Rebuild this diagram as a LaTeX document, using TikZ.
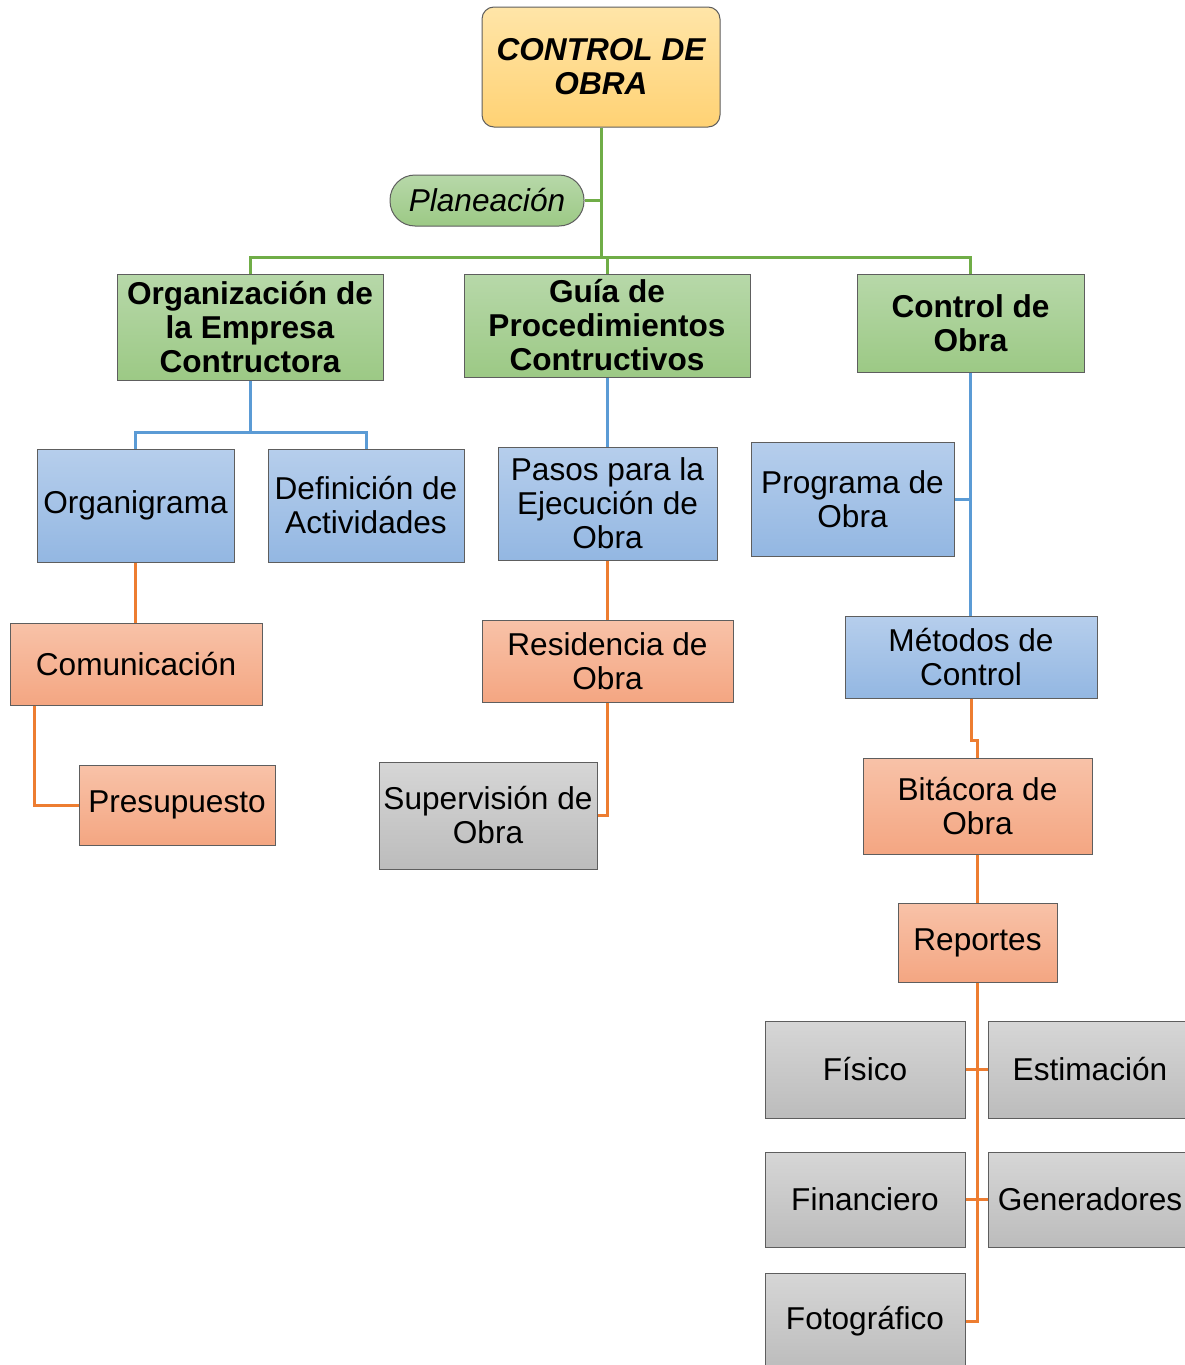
\documentclass[tikz,border=0pt]{standalone}
\usepackage{fontspec}
\setmainfont{Liberation Sans}
\usetikzlibrary{calc}
\definecolor{gC}{HTML}{70AD47}
\definecolor{bC}{HTML}{5B9BD5}
\definecolor{oC}{HTML}{ED7D31}
\definecolor{edgeC}{HTML}{5E5E5E}
\definecolor{topT}{HTML}{FFE5A8}
\definecolor{topB}{HTML}{FFD274}
\definecolor{grT}{HTML}{B7D8A9}
\definecolor{grB}{HTML}{9CC985}
\definecolor{blT}{HTML}{B6CEEC}
\definecolor{blB}{HTML}{93B7E2}
\definecolor{saT}{HTML}{F8C2A8}
\definecolor{saB}{HTML}{F4A682}
\definecolor{gyT}{HTML}{D6D6D6}
\definecolor{gyB}{HTML}{BCBCBC}
\begin{document}
\begin{tikzpicture}[x=1pt,y=-1pt,
  box/.style={draw=edgeC, line width=1pt, inner sep=0pt, align=center,
    font=\fontsize{31.6}{34}\selectfont},
  topbox/.style={box, rounded corners=12pt, top color=topT, bottom color=topB,
    font=\fontsize{31.6}{34}\selectfont\bfseries\itshape},
  pill/.style={box, rounded corners=25pt, top color=grT, bottom color=grB,
    font=\fontsize{31.6}{34}\selectfont\itshape},
  greenbox/.style={box, top color=grT, bottom color=grB,
    font=\fontsize{31.6}{34}\selectfont\bfseries},
  bluebox/.style={box, top color=blT, bottom color=blB},
  salmonbox/.style={box, top color=saT, bottom color=saB},
  greybox/.style={box, top color=gyT, bottom color=gyB},
  gline/.style={draw=gC, line width=3pt},
  bline/.style={draw=bC, line width=3pt},
  oline/.style={draw=oC, line width=3pt}]
\useasboundingbox[fill=white] (0,0) rectangle (1185,1365);

% connector levels
\coordinate (busy) at (0,257);
\coordinate (bbusy) at (0,432);

% top level
\node[topbox, minimum width=238pt, minimum height=120pt] (top) at (601,67) {CONTROL DE\\OBRA};
\node[pill, minimum width=194pt, minimum height=51pt] (plan) at (487,200.5) {Planeación};

% green row
\node[greenbox, minimum width=266pt, minimum height=106pt] (org) at (250,327) {Organización de\\la Empresa\\Contructora};
\node[greenbox, minimum width=286pt, minimum height=103pt] (guia) at (607,325.5) {Guía de\\Procedimientos\\Contructivos};
\node[greenbox, minimum width=227pt, minimum height=98pt] (ctrl) at (970.5,323) {Control de\\Obra};

% blue row
\node[bluebox, minimum width=197pt, minimum height=113pt] (organi) at (135.5,505.5) {Organigrama};
\node[bluebox, minimum width=196pt, minimum height=113pt] (defin) at (366,505.5) {Definición de\\Actividades};
\node[bluebox, minimum width=219pt, minimum height=113pt] (pasos) at (607.5,503.5) {Pasos para la\\Ejecución de\\Obra};
\node[bluebox, minimum width=203pt, minimum height=114pt] (prog) at (852.5,499) {Programa de\\Obra};
\node[bluebox, minimum width=252pt, minimum height=82pt] (metodos) at (971,657) {Métodos de\\Control};

% salmon boxes
\node[salmonbox, minimum width=252pt, minimum height=82pt] (comun) at (136,664) {Comunicación};
\node[salmonbox, minimum width=196pt, minimum height=80pt] (presu) at (177,805) {Presupuesto};
\node[salmonbox, minimum width=251pt, minimum height=82pt] (resid) at (607.5,661) {Residencia de\\Obra};
\node[salmonbox, minimum width=229pt, minimum height=96pt] (bitac) at (977.5,806) {Bitácora de\\Obra};
\node[salmonbox, minimum width=159pt, minimum height=79pt] (report) at (977.5,942.5) {Reportes};

% grey boxes
\node[greybox, minimum width=218pt, minimum height=107pt] (superv) at (488,815.5) {Supervisión de\\Obra};
\node[greybox, minimum width=200pt, minimum height=97pt] (fisico) at (865,1069.5) {Físico};
\node[greybox, minimum width=204pt, minimum height=97pt] (estim) at (1090,1069.5) {Estimación};
\node[greybox, minimum width=200pt, minimum height=95pt] (financ) at (865,1199.5) {Financiero};
\node[greybox, minimum width=204pt, minimum height=95pt] (gener) at (1090,1199.5) {Generadores};
\node[greybox, minimum width=200pt, minimum height=97pt] (foto) at (865,1321.5) {Fotográfico};

% green connectors
\draw[gline] (top.south) -- (top.south |- busy);
\draw[gline] (plan.east) -- (plan.east -| top.south);
\draw[gline] (org.north) -- (org.north |- busy) -- (ctrl.north |- busy) -- (ctrl.north);
\draw[gline] (guia.north) -- (guia.north |- busy);

% blue connectors
\draw[bline] (org.south) -- (org.south |- bbusy);
\draw[bline] (organi.north) -- (organi.north |- bbusy) -- (defin.north |- bbusy) -- (defin.north);
\draw[bline] (guia.south) -- (guia.south |- pasos.north);
\draw[bline] (ctrl.south) -- (ctrl.south |- metodos.north);
\draw[bline] (prog.east) -- (prog.east -| ctrl.south);

% orange connectors
\draw[oline] (organi.south) -- (organi.south |- comun.north);
\draw[oline] ([xshift=25pt]comun.south west) |- (presu.west);
\draw[oline] (pasos.south) -- (pasos.south |- resid.north);
\draw[oline] (resid.south) |- (superv.east);
\draw[oline] (metodos.south) |- ($(metodos.south)!0.72!(metodos.south |- bitac.north)$) -| (bitac.north);
\draw[oline] (bitac.south) -- (report.north);
\draw[oline] (report.south) |- (foto.east);
\draw[oline] (fisico.east) -- (estim.west);
\draw[oline] (financ.east) -- (gener.west);
\end{tikzpicture}
\end{document}
